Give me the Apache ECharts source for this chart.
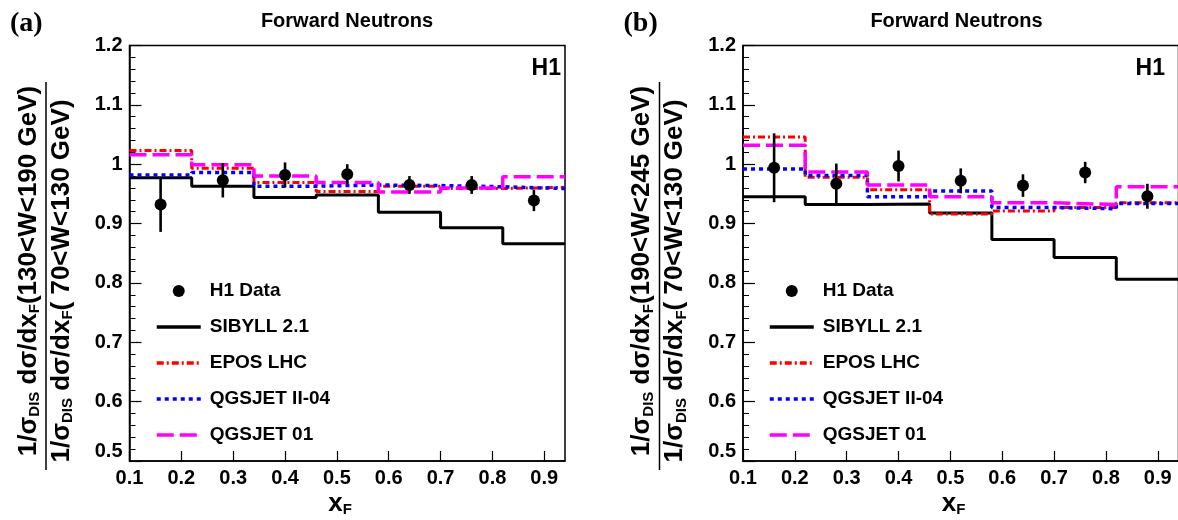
<!DOCTYPE html>
<html><head><meta charset="utf-8">
<script src="https://cdn.jsdelivr.net/npm/echarts@6/dist/echarts.min.js"></script>
<style>html,body{margin:0;padding:0;background:#fff}#c{width:1178px;height:520px}</style>
</head><body><div id="c"></div>
<script>
// ---- data ----
const binEdges = [0.10, 0.22, 0.34, 0.46, 0.58, 0.70, 0.82, 0.94];
const xCenters = [0.16, 0.28, 0.40, 0.52, 0.64, 0.76, 0.88];

const dataA   = [0.932, 0.973, 0.982, 0.983, 0.965, 0.965, 0.939];
const errA    = [0.046, 0.029, 0.021, 0.017, 0.015, 0.015, 0.018];
const sibyllA = [0.977, 0.963, 0.944, 0.948, 0.919, 0.893, 0.866];
const eposA   = [1.023, 0.993, 0.969, 0.954, 0.963, 0.959, 0.961];
const qgs2A   = [0.982, 0.986, 0.963, 0.965, 0.964, 0.962, 0.959];
const qgs1A   = [1.016, 0.999, 0.980, 0.969, 0.953, 0.960, 0.979];

const dataB   = [0.994, 0.967, 0.997, 0.972, 0.964, 0.986, 0.946];
const errB    = [0.058, 0.034, 0.026, 0.021, 0.019, 0.018, 0.021];
const sibyllB = [0.945, 0.932, 0.933, 0.918, 0.873, 0.843, 0.806];
const eposB   = [1.046, 0.978, 0.957, 0.916, 0.921, 0.927, 0.935];
const qgs2B   = [0.992, 0.981, 0.945, 0.955, 0.927, 0.925, 0.934];
const qgs1B   = [1.032, 0.987, 0.965, 0.945, 0.935, 0.932, 0.962];

const seriesNames = ['H1 Data', 'SIBYLL 2.1', 'EPOS LHC', 'QGSJET II-04', 'QGSJET 01'];
const panelTitle = 'Forward Neutrons';
const panelLetters = ['(a)', '(b)'];
const numerators = ['(130<W<190 GeV)', '(190<W<245 GeV)'];
const denominator = '( 70<W<130 GeV)';

// ---- styling ----
const SANS = '"Liberation Sans", Arial, Helvetica, sans-serif';
const SERIF = '"Liberation Serif", "Times New Roman", serif';
const grids = [
  {left: 129.5, top: 45.5, width: 435.5, height: 415.5},
  {left: 743, top: 45.5, width: 435.5, height: 415.5}
];
const shift = 613.5;

function stepData(vals) {
  const d = vals.map((v, i) => [binEdges[i], v]);
  d.push([binEdges[binEdges.length - 1], vals[vals.length - 1]]);
  return d;
}

const modelStyles = {
  'SIBYLL 2.1':   {color: '#000000', type: 'solid', width: 3},
  'EPOS LHC':     {color: '#ff0000', type: [7, 3, 2, 3], width: 3},
  'QGSJET II-04': {color: '#0000ff', type: [4, 4], width: 3.5},
  'QGSJET 01':    {color: '#ff00ff', type: [17, 6], width: 3.5}
};

const panels = [
  {data: dataA, err: errA, models: {'SIBYLL 2.1': sibyllA, 'EPOS LHC': eposA, 'QGSJET II-04': qgs2A, 'QGSJET 01': qgs1A}},
  {data: dataB, err: errB, models: {'SIBYLL 2.1': sibyllB, 'EPOS LHC': eposB, 'QGSJET II-04': qgs2B, 'QGSJET 01': qgs1B}}
];

const series = [];
panels.forEach((p, pi) => {
  Object.keys(p.models).forEach((name, k) => {
    const st = modelStyles[name];
    series.push({
      name, type: 'line', step: 'end', xAxisIndex: pi, yAxisIndex: pi,
      data: stepData(p.models[name]), symbol: 'none', showSymbol: false,
      color: st.color, itemStyle: {color: st.color},
      lineStyle: {color: st.color, width: st.width, type: st.type, cap: 'butt'},
      z: 2 + k, silent: true, animation: false
    });
  });
  series.push({
    name: 'err' + pi, type: 'custom', xAxisIndex: pi, yAxisIndex: pi,
    data: xCenters.map((x, i) => [x, p.data[i], p.data[i] - p.err[i], p.data[i] + p.err[i]]),
    encode: {x: 0, y: 1},
    renderItem: (params, api) => {
      const a = api.coord([api.value(0), api.value(2)]);
      const b = api.coord([api.value(0), api.value(3)]);
      return {type: 'line', shape: {x1: a[0], y1: a[1], x2: b[0], y2: b[1]},
              style: {stroke: '#000', lineWidth: 2.6}};
    },
    z: 8, silent: true, animation: false
  });
  series.push({
    name: 'H1 Data', type: 'scatter', xAxisIndex: pi, yAxisIndex: pi,
    data: xCenters.map((x, i) => [x, p.data[i]]),
    symbol: 'circle', symbolSize: 12, itemStyle: {color: '#000', opacity: 1}, color: '#000',
    z: 9, silent: true, animation: false
  });
});

const tickFont = {fontFamily: SANS, fontWeight: 'bold', fontSize: 20, color: '#000'};

const xAxes = grids.map((g, i) => ({
  type: 'value', gridIndex: i, min: 0.1, max: 0.94, interval: 0.1,
  axisLine: {show: true, lineStyle: {color: '#000', width: 1.5}},
  axisTick: {show: true, inside: true, length: 10, lineStyle: {color: '#000', width: 1.2}},
  axisLabel: Object.assign({margin: 7, showMaxLabel: false}, tickFont),
  splitLine: {show: false}
}));

const yAxes = grids.map((g, i) => ({
  type: 'value', gridIndex: i, min: 0.5, max: 1.2, interval: 0.1,
  axisLine: {show: true, lineStyle: {color: '#000', width: 1.5}},
  axisTick: {show: true, inside: true, length: 12, lineStyle: {color: '#000', width: 1.2}},
  minorTick: {show: true, splitNumber: 5, length: 6, lineStyle: {color: '#000', width: 1}},
  axisLabel: Object.assign({margin: 7, verticalAlignMinLabel: 'bottom'}, tickFont),
  splitLine: {show: false}, minorSplitLine: {show: false}
}));

const legendData = seriesNames.map(n => n === 'H1 Data'
  ? {name: n}
  : {name: n, itemStyle: {color: 'rgba(0,0,0,0)', borderWidth: 0, opacity: 0},
     lineStyle: {width: 3.5}});

const legends = [150, 763].map(left => ({
  data: legendData, orient: 'vertical', left: left, top: 276,
  itemWidth: 44, itemHeight: 12, itemGap: 16, selectedMode: false,
  lineStyle: {width: 3.5},
  textStyle: {fontFamily: SANS, fontWeight: 'bold', fontSize: 19, lineHeight: 20, color: '#000', padding: [0, 0, 0, 4]}
}));

const richMain = {
  m: {fontFamily: SANS, fontWeight: 'bold', fontSize: 26, lineHeight: 27, verticalAlign: 'top', fill: '#000', color: '#000'},
  s: {fontFamily: SANS, fontWeight: 'bold', fontSize: 15, lineHeight: 15, padding: [18, 0, 0, 0], verticalAlign: 'bottom', fill: '#000', color: '#000'}
};

const graphics = [];
[0, 1].forEach(pi => {
  const dx = pi * shift;
  graphics.push({type: 'text', x: 10 + dx, y: 24, style: {text: panelLetters[pi], font: 'bold 28px ' + SERIF, fill: '#000', align: 'left', verticalAlign: 'middle'}});
  graphics.push({type: 'text', x: grids[pi].left + 217.5 - pi * 4, y: 21, style: {text: panelTitle, font: 'bold 20px ' + SANS, fill: '#000', align: 'center', verticalAlign: 'middle'}});
  graphics.push({type: 'text', x: pi === 0 ? 561 : 1165, y: 69, style: {text: 'H1', font: 'bold 23px ' + SANS, fill: '#000', align: 'right', verticalAlign: 'middle'}});
  graphics.push({type: 'text', x: 340 + dx, y: 504, style: {text: '{m|x}{s|F}', rich: richMain, align: 'center', verticalAlign: 'middle'}});
  graphics.push({
    type: 'group', x: 46 + dx, y: 276, rotation: Math.PI / 2,
    children: [
      {type: 'text', x: 5, y: -17, style: {text: '{m|1/σ}{s|DIS}{m| dσ/dx}{s|F}{m|' + numerators[pi] + '}', rich: richMain, align: 'center', verticalAlign: 'middle'}},
      {type: 'line', shape: {x1: -194, y1: 0, x2: 194, y2: 0}, style: {stroke: '#000', lineWidth: 1.5}},
      {type: 'text', x: -5, y: 16, style: {text: '{m|1/σ}{s|DIS}{m| dσ/dx}{s|F}{m|' + denominator + '}', rich: richMain, align: 'center', verticalAlign: 'middle'}}
    ]
  });
});

const chart = echarts.init(document.getElementById('c'), null, {renderer: 'canvas'});
chart.setOption({
  backgroundColor: '#ffffff',
  animation: false,
  grid: grids.map(g => Object.assign({show: true, borderColor: '#000', borderWidth: 1.5, backgroundColor: 'transparent', containLabel: false, outerBoundsMode: 'none'}, g)),
  xAxis: xAxes,
  yAxis: yAxes,
  legend: legends,
  series: series,
  graphic: graphics
});
</script></body></html>
